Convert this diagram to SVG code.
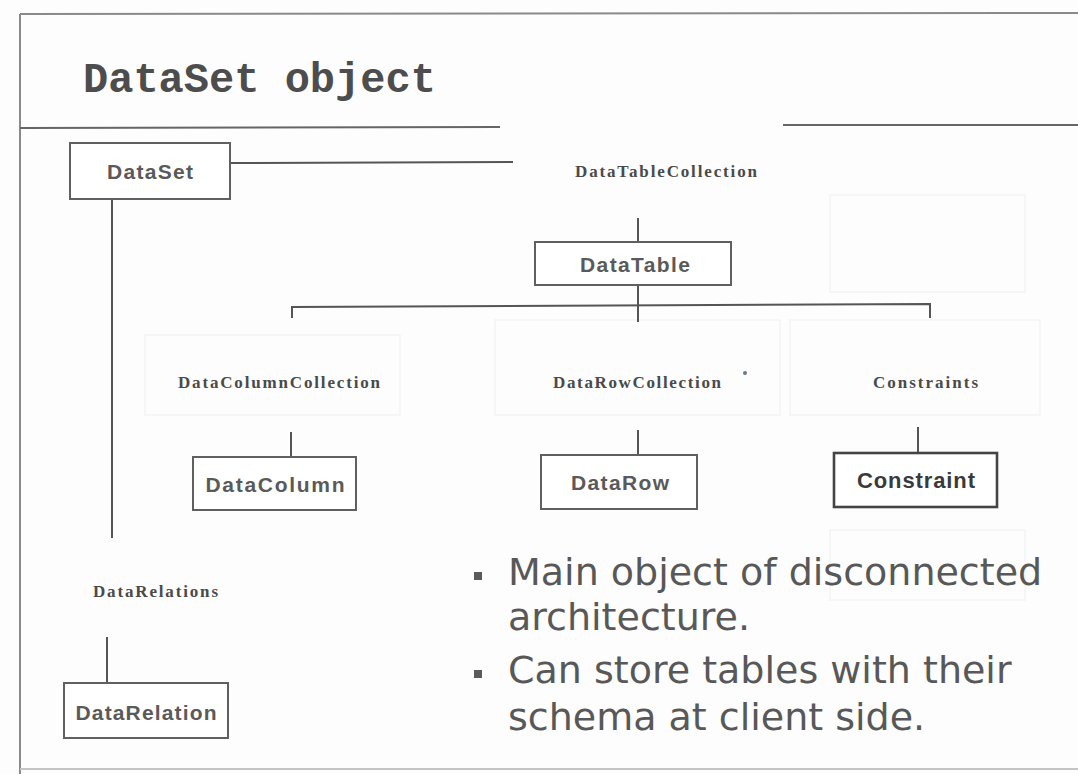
<svg xmlns="http://www.w3.org/2000/svg" width="1078" height="774" viewBox="0 0 1078 774">
  <style>
    .frame { stroke: #8a8a8a; stroke-width: 2; fill: none; }
    .rule { stroke: #666; stroke-width: 2; fill: none; }
    .box { fill: #ffffff; stroke: #606060; stroke-width: 2; }
    .box-strong { fill: #ffffff; stroke: #444; stroke-width: 2.6; }
    .link { stroke: #555; stroke-width: 2; fill: none; }
    .ghost { fill: none; stroke: #f1f3f6; stroke-width: 1.5; }
    .title { font-family: "Liberation Mono", "Courier New", monospace; font-weight: bold; font-size: 42px; fill: #4d4d4d; }
    .label { font-family: "Liberation Sans", Arial, sans-serif; font-weight: bold; font-size: 21px; fill: #5a5a5a; text-anchor: middle; }
    .label-strong { font-family: "Liberation Sans", Arial, sans-serif; font-weight: bold; font-size: 22px; fill: #3a3a3a; text-anchor: middle; }
    .coll { font-family: "Liberation Serif", "Times New Roman", serif; font-weight: bold; font-size: 17px; fill: #4a4a4a; }
    .bullet-text { font-family: "DejaVu Sans", Verdana, sans-serif; font-size: 38px; fill: #585858; }
    .bullet { fill: #5a5a5a; }
  </style>

  <!-- page -->
  <rect x="0" y="0" width="1078" height="774" fill="#fdfdfd"/>

  <!-- faint shapes in the background -->
  <g id="background">
    <rect class="ghost" x="830" y="195" width="195" height="97"/>
    <rect class="ghost" x="830" y="530" width="195" height="70"/>
    <rect class="ghost" x="145" y="335" width="255" height="80"/>
    <rect class="ghost" x="495" y="320" width="285" height="95"/>
    <rect class="ghost" x="790" y="320" width="250" height="95"/>
  </g>

  <!-- frame and title rules -->
  <g id="frame">
    <line class="frame" x1="20" y1="14" x2="1078" y2="13"/>
    <line class="frame" x1="20" y1="14" x2="20" y2="774"/>
    <line x1="20" y1="769" x2="1078" y2="769" stroke="#c4c4c4" stroke-width="2"/>
    <line class="rule" x1="20" y1="128" x2="500" y2="127"/>
    <line class="rule" x1="783" y1="125" x2="1078" y2="125"/>
  </g>

  <text id="title" class="title" x="83" y="92">DataSet object</text>

  <!-- connectors -->
  <g id="connectors">
    <line class="link" x1="230" y1="163" x2="513" y2="162"/>
    <line class="link" x1="112" y1="199" x2="112" y2="538"/>
    <line class="link" x1="638" y1="218" x2="638" y2="242"/>
    <line class="link" x1="638" y1="285" x2="638" y2="322"/>
    <polyline class="link" points="292,318 292,307 930,304 930,318"/>
    <line class="link" x1="291" y1="432" x2="291" y2="457"/>
    <line class="link" x1="638" y1="430" x2="638" y2="455"/>
    <line class="link" x1="918" y1="427" x2="918" y2="453"/>
    <line class="link" x1="107" y1="637" x2="107" y2="683"/>
  </g>

  <!-- nodes -->
  <g id="node-dataset">
    <rect class="box" x="70" y="143" width="160" height="56"/>
    <text class="label" x="150" y="179" font-size="20" textLength="86">DataSet</text>
  </g>

  <g id="node-datatablecollection">
    <text class="coll" x="575" y="177" textLength="182">DataTableCollection</text>
  </g>

  <g id="node-datatable">
    <rect class="box" x="535" y="242" width="196" height="43"/>
    <text class="label" x="635" y="272" textLength="110">DataTable</text>
  </g>

  <g id="node-datacolumncollection">
    <text class="coll" x="178" y="388" textLength="202">DataColumnCollection</text>
  </g>

  <g id="node-datarowcollection">
    <text class="coll" x="553" y="388" textLength="168">DataRowCollection</text>
    <circle cx="745" cy="373" r="2" fill="#6a7890"/>
  </g>

  <g id="node-constraints">
    <text class="coll" x="873" y="388" textLength="105">Constraints</text>
  </g>

  <g id="node-datacolumn">
    <rect class="box" x="193" y="457" width="163" height="53"/>
    <text class="label" x="275" y="492" textLength="139">DataColumn</text>
  </g>

  <g id="node-datarow">
    <rect class="box" x="541" y="455" width="156" height="54"/>
    <text class="label" x="620" y="490" textLength="98">DataRow</text>
  </g>

  <g id="node-constraint">
    <rect class="box-strong" x="834" y="453" width="163" height="54"/>
    <text class="label-strong" x="916" y="488" textLength="118">Constraint</text>
  </g>

  <g id="node-datarelations">
    <text class="coll" x="93" y="597" textLength="125">DataRelations</text>
  </g>

  <g id="node-datarelation">
    <rect class="box" x="64" y="683" width="164" height="55"/>
    <text class="label" x="146" y="720" textLength="141">DataRelation</text>
  </g>

  <!-- notes -->
  <g id="notes">
    <rect class="bullet" x="474" y="572" width="8" height="8"/>
    <text class="bullet-text" x="508" y="585">Main object of disconnected</text>
    <text class="bullet-text" x="508" y="630">architecture.</text>
    <rect class="bullet" x="474" y="670" width="8" height="8"/>
    <text class="bullet-text" x="508" y="683">Can store tables with their</text>
    <text class="bullet-text" x="508" y="730">schema at client side.</text>
  </g>
</svg>
